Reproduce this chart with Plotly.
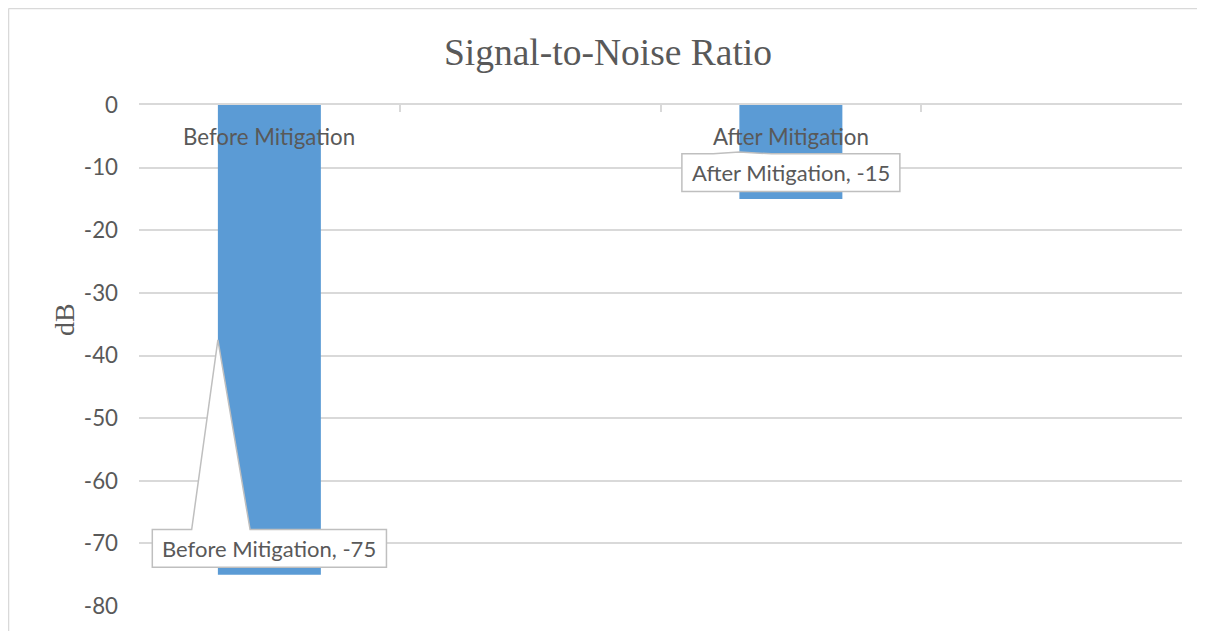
import plotly.graph_objects as go

# data
categories = ["Before Mitigation", "", "After Mitigation", ""]
snr_db = [-75, None, -15, None]
y_ticks = [0, -10, -20, -30, -40, -50, -60, -70, -80]

BAR, INK, GRID = "#5b9bd5", "#595959", "#d9d9d9"
SANS = "Lato, 'Open Sans', sans-serif"
SERIF = "'Liberation Serif', 'Times New Roman', serif"
BAR_W = 0.395
# data-label box styling (half width in slot units, centre offset from value)
LABEL_HALF_W = {0: 0.449, 2: 0.418}
LABEL_OFFSET = 4.2
LABEL_HALF_H = 3.0
POINTER_GAP = (-0.298, -0.074)

xs = list(range(len(categories)))

fig = go.Figure()
fig.add_trace(go.Bar(x=xs, y=snr_db, width=BAR_W, marker_color=BAR,
                     marker_line_width=0, hoverinfo="skip", showlegend=False))

# category labels sit just under the zero line (Excel style)
for x, name in zip(xs, categories):
    if name:
        fig.add_annotation(x=x, y=0, yanchor="top", yshift=-16, text=name,
                           showarrow=False, font=dict(family=SANS, size=22.3, color=INK))

# callout data labels
for x, name, v in zip(xs, categories, snr_db):
    if v is None:
        continue
    ly = v + LABEL_OFFSET
    hw = LABEL_HALF_W[x]
    x0, x1, yt, yb = x - hw, x + hw, ly + LABEL_HALF_H, ly - LABEL_HALF_H
    tx, ty = x - BAR_W / 2, v / 2
    if ty > yt:
        g1, g2 = x + POINTER_GAP[0], x + POINTER_GAP[1]
        path = (f"M {x0},{yb} L {x0},{yt} L {g1},{yt} L {tx},{ty} L {g2},{yt} "
                f"L {x1},{yt} L {x1},{yb} Z")
    else:
        path = f"M {x0},{yb} L {x0},{yt} L {x1},{yt} L {x1},{yb} Z"
    fig.add_shape(type="path", path=path, xref="x", yref="y", layer="above",
                  fillcolor="white", line=dict(color="#bfbfbf", width=1.5))
    fig.add_annotation(x=x, y=ly, text=f"{name}, {v}", showarrow=False,
                       font=dict(family=SANS, size=22, color=INK))

# chart-area border: only its left and top edges fall inside the view
border = dict(color=GRID, width=1.5)
fig.add_shape(type="line", xref="paper", yref="paper", x0=-0.1251, x1=-0.1251,
              y0=-0.3, y1=1.1926, line=border, layer="below")
fig.add_shape(type="line", xref="paper", yref="paper", x0=-0.1251, x1=1.2,
              y0=1.1926, y1=1.1926, line=border, layer="below")

fig.add_annotation(xref="paper", yref="paper", x=-0.0709, y=0.571, text="dB",
                   xanchor="center", yanchor="middle", textangle=-90, showarrow=False,
                   font=dict(family=SERIF, size=28, color=INK))

fig.update_layout(
    width=1205, height=631,
    paper_bgcolor="white", plot_bgcolor="white",
    margin=dict(l=131, r=31, t=97, b=33),
    title=dict(text="Signal-to-Noise Ratio", x=600 / 1205, xref="container",
               y=1 - 44 / 631, yref="container", yanchor="middle", xanchor="center",
               font=dict(family=SERIF, size=37.5, color=INK)),
    showlegend=False,
)
fig.update_xaxes(range=[-0.5, len(categories) - 0.5], side="top",
                 tickvals=[i - 0.5 for i in range(len(categories) + 1)],
                 showticklabels=False, ticks="inside", ticklen=7, tickcolor=GRID,
                 tickwidth=1.5, showline=True, linecolor=GRID, linewidth=1.5,
                 showgrid=False, zeroline=False)
fig.update_yaxes(range=[-80, 0], tickvals=y_ticks, ticktext=[str(t) for t in y_ticks],
                 showgrid=True, gridcolor=GRID,
                 gridwidth=1.5, zeroline=False, showline=False, ticks="",
                 ticklabelstandoff=20,
                 tickfont=dict(family=SANS, size=22.3, color=INK))

fig.write_html("out.html")
